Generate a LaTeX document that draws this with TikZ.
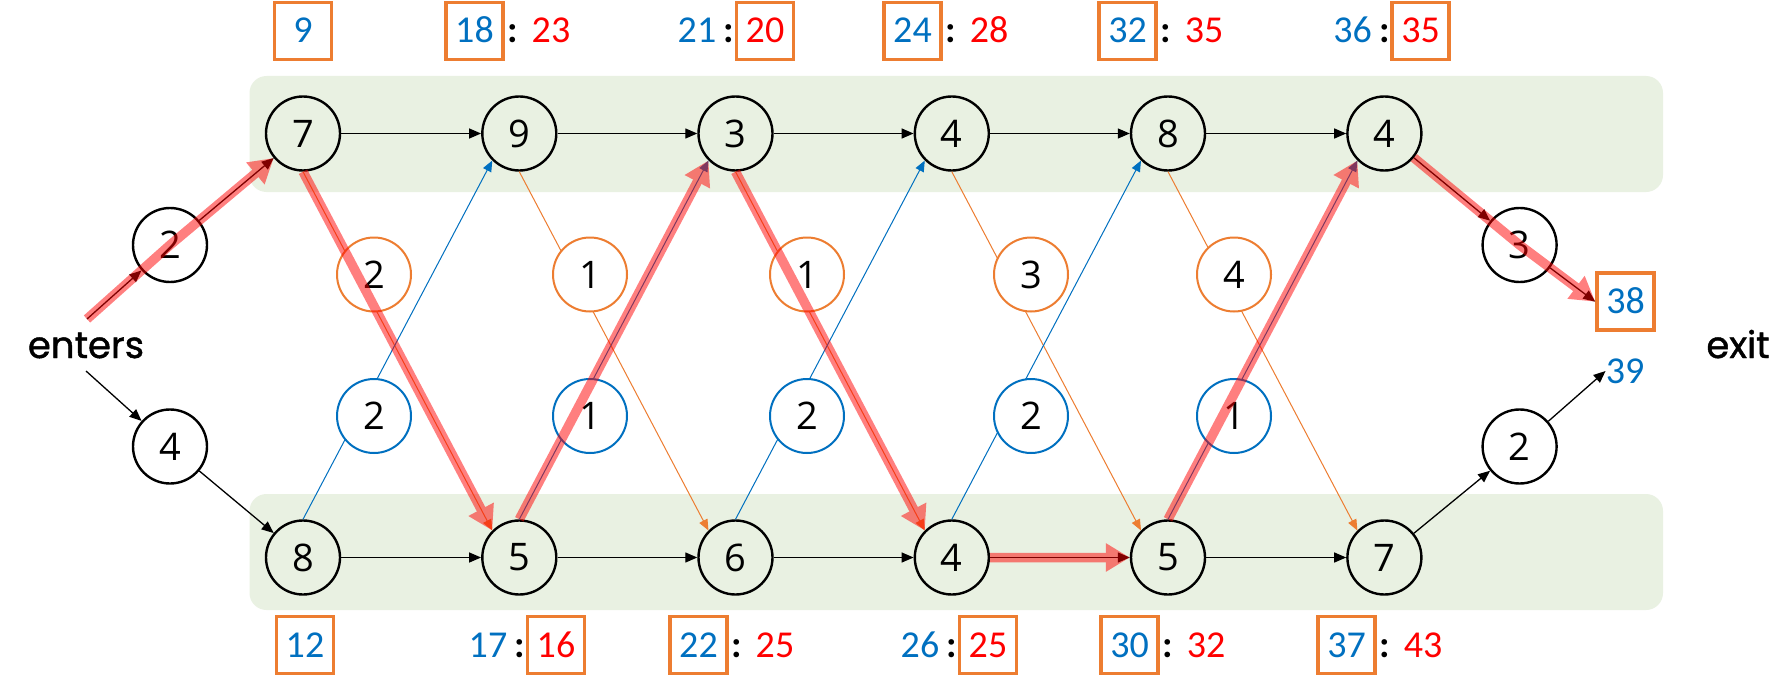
\documentclass[tikz,border=0pt]{standalone}
\usepackage{fontspec}
\setmainfont{Open Sans}
\newfontfamily\numfont{Carlito}
\newfontfamily\wordfont{Poppins}[FakeBold=1.2]
\usetikzlibrary{arrows.meta}
\definecolor{bandgreen}{RGB}{233,241,226}
\definecolor{myblue}{RGB}{0,112,192}
\definecolor{myorange}{RGB}{237,125,49}
\definecolor{myred}{RGB}{255,0,0}
\begin{document}
\begin{tikzpicture}[x=1pt,y=-1pt,
  nd/.style={circle, draw=black, line width=2.4pt, minimum size=74pt, inner sep=0pt, font=\fontsize{38}{40}\selectfont},
  wo/.style={nd, draw=myorange, line width=2pt, fill=white},
  wb/.style={nd, draw=myblue, line width=2pt, fill=white},
  ws/.style={nd, fill=white},
  band/.style={fill=bandgreen, rounded corners=17pt},
  num/.style={minimum width=57pt, minimum height=57pt, inner sep=0pt, text height=24pt, text depth=0pt, font=\numfont\fontsize{38}{40}\selectfont},
  lbox/.style={num, draw=myorange, line width=3.5pt},
  colon/.style={inner sep=0pt, text height=24pt, text depth=0pt, font=\numfont\bfseries\fontsize{38}{40}\selectfont},
  word/.style={inner sep=0pt, text height=28pt, text depth=0pt, font=\wordfont\fontsize{37}{40}\selectfont},
  blk/.style={draw=black, line width=1.3pt, -{Triangle[length=12pt,width=10pt]}},
  org/.style={draw=myorange, line width=1pt, -{Triangle[length=11pt,width=9pt]}},
  blu/.style={draw=myblue, line width=1pt, -{Triangle[length=11pt,width=9pt]}},
  redp/.style={draw=myred, line width=9.5pt, -{Triangle[length=24pt,width=27pt]}}
]
\useasboundingbox (0,0) rectangle (1792,693);
\fill[white] (0,0) rectangle (1792,693);
% bands
\path[band] (249.5,76) rectangle (1663,192);
\path[band] (249.5,494) rectangle (1663,610);
% main nodes
\node[nd] (t1) at (303,133.5) {7};
\node[nd] (t2) at (519.3,133.5) {9};
\node[nd] (t3) at (735.5,133.5) {3};
\node[nd] (t4) at (951.8,133.5) {4};
\node[nd] (t5) at (1168,133.5) {8};
\node[nd] (t6) at (1384.4,133.5) {4};
\node[nd] (b1) at (303,557.5) {8};
\node[nd] (b2) at (519.3,557.5) {5};
\node[nd] (b3) at (735.5,557.5) {6};
\node[nd] (b4) at (951.8,557.5) {4};
\node[nd] (b5) at (1168,557.5) {5};
\node[nd] (b6) at (1384.4,557.5) {7};
% entry / exit
\node[ws] (ea) at (170,245) {2};
\node[ws] (eb) at (170,446.5) {4};
\node[ws] (xa) at (1519.6,245) {3};
\node[ws] (xb) at (1519.6,446.5) {2};
\node[word] (enters) at (86,344) {enters};
\node[word] (exit) at (1738,344) {exit};
\coordinate (cs) at (87,319);
\coordinate (cs2) at (86,371);
% end labels
\node[lbox, text=myblue] (box38) at (1625.5,301.7) {38};
\node[num, text=myblue, minimum width=0pt, minimum height=0pt] (t39) at (1625,371) {39};
% thin black arrows
\draw[blk] (cs) -- (ea);
\draw[blk] (ea) -- (t1);
\draw[blk] (cs2) -- (eb);
\draw[blk] (eb) -- (b1);
\draw[blk] (t1) -- (t2);
\draw[blk] (t2) -- (t3);
\draw[blk] (t3) -- (t4);
\draw[blk] (t4) -- (t5);
\draw[blk] (t5) -- (t6);
\draw[blk] (b1) -- (b2);
\draw[blk] (b2) -- (b3);
\draw[blk] (b3) -- (b4);
\draw[blk] (b4) -- (b5);
\draw[blk] (b5) -- (b6);
\draw[blk] (t6) -- (xa);
\draw[blk] (xa) -- (box38.west);
\draw[blk] (b6) -- (xb);
\draw[blk] (xb) -- (t39.west);
% orange edges (top to bottom)
\draw[org] (t1.south) -- (b2.135);
\draw[org] (t2.south) -- (b3.135);
\draw[org] (t3.south) -- (b4.135);
\draw[org] (t4.south) -- (b5.135);
\draw[org] (t5.south) -- (b6.135);
% blue edges (bottom to top)
\draw[blu] (b1.north) -- (t2.225);
\draw[blu] (b2.north) -- (t3.225);
\draw[blu] (b3.north) -- (t4.225);
\draw[blu] (b4.north) -- (t5.225);
\draw[blu] (b5.north) -- (t6.225);
% weight circles
\node[wo] (wo1) at (374,274.5) {2};
\node[wo] (wo2) at (590,274.5) {1};
\node[wo] (wo3) at (807,274.5) {1};
\node[wo] (wo4) at (1031,274.5) {3};
\node[wo] (wo5) at (1234,274.5) {4};
\node[wb] (wb1) at (374,416) {2};
\node[wb] (wb2) at (590,416) {1};
\node[wb] (wb3) at (807,416) {2};
\node[wb] (wb4) at (1031,416) {2};
\node[wb] (wb5) at (1234,416) {1};
% top labels
\node[lbox, text=myblue] (lt1) at (303,31) {9};
\node[colon] (ct2) at (513,31) {:};
\node[lbox, text=myblue] (lt2a) at (474.5,31) {18};
\node[num, text=myred] (lt2b) at (551,31) {23};
\node[colon] (ct3) at (729,31) {:};
\node[num, text=myblue] (lt3a) at (697,31) {21};
\node[lbox, text=myred] (lt3b) at (765,31) {20};
\node[colon] (ct4) at (951,31) {:};
\node[lbox, text=myblue] (lt4a) at (912.5,31) {24};
\node[num, text=myred] (lt4b) at (989,31) {28};
\node[colon] (ct5) at (1166,31) {:};
\node[lbox, text=myblue] (lt5a) at (1127.5,31) {32};
\node[num, text=myred] (lt5b) at (1204,31) {35};
\node[colon] (ct6) at (1384.5,31) {:};
\node[num, text=myblue] (lt6a) at (1352.5,31) {36};
\node[lbox, text=myred] (lt6b) at (1420.5,31) {35};
% bottom labels
\node[lbox, text=myblue] (lb1) at (305,645) {12};
\node[colon] (cb2) at (520,645) {:};
\node[num, text=myblue] (lb2a) at (488,645) {17};
\node[lbox, text=myred] (lb2b) at (556,645) {16};
\node[colon] (cb3) at (737,645) {:};
\node[lbox, text=myblue] (lb3a) at (698.5,645) {22};
\node[num, text=myred] (lb3b) at (775,645) {25};
\node[colon] (cb4) at (952,645) {:};
\node[num, text=myblue] (lb4a) at (920,645) {26};
\node[lbox, text=myred] (lb4b) at (988,645) {25};
\node[colon] (cb5) at (1168,645) {:};
\node[lbox, text=myblue] (lb5a) at (1129.5,645) {30};
\node[num, text=myred] (lb5b) at (1206,645) {32};
\node[colon] (cb6) at (1385,645) {:};
\node[lbox, text=myblue] (lb6a) at (1346.5,645) {37};
\node[num, text=myred] (lb6b) at (1423,645) {43};
% red highlighted path
\begin{scope}[transparency group, opacity=0.5]
\draw[redp] (cs) -- (ea.center) -- (t1);
\draw[redp] (t1.south) -- (b2.135);
\draw[redp] (b2.north) -- (t3.225);
\draw[redp] (t3.south) -- (b4.135);
\draw[redp] (b4) -- (b5);
\draw[redp] (b5.north) -- (t6.225);
\draw[redp] (t6) -- (xa.center) -- (box38.west);
\end{scope}
\end{tikzpicture}
\end{document}
